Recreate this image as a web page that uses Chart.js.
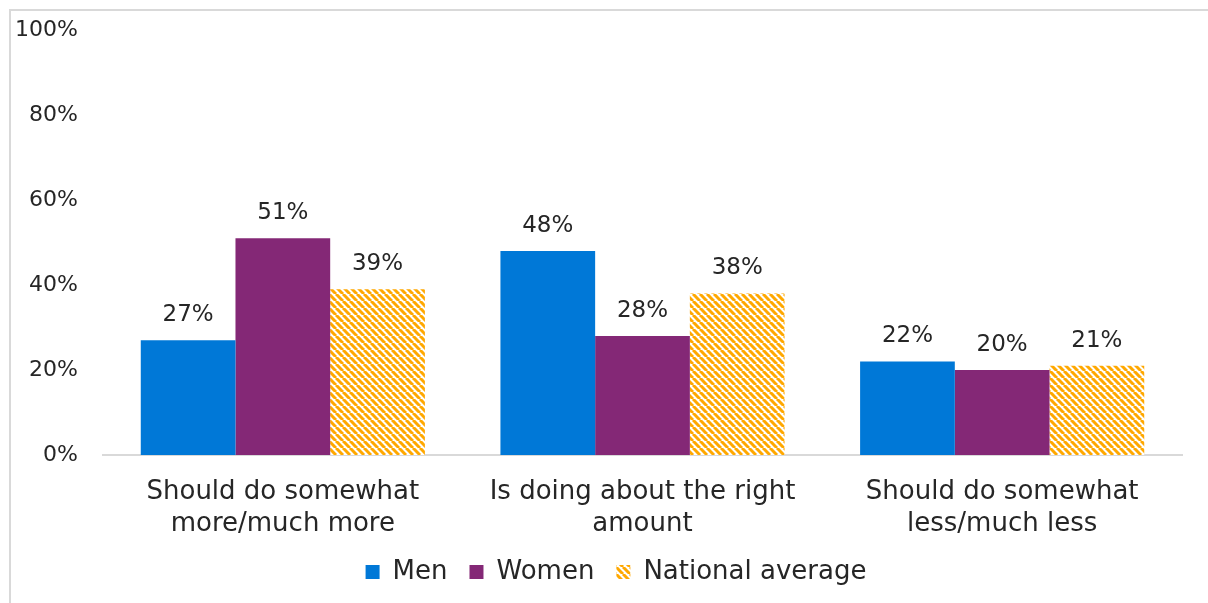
<!DOCTYPE html>
<html>
<head>
<meta charset="utf-8">
<script src="https://cdn.jsdelivr.net/npm/chart.js@4/dist/chart.umd.min.js"></script>
<style>
  html, body { margin: 0; padding: 0; background: #ffffff; }
  #wrap { position: relative; width: 1208px; height: 603px; }
</style>
</head>
<body>
<div id="wrap"><canvas id="chart" width="1208" height="603"></canvas></div>
<script>
// Survey responses by group (percent)
const categories = [
  ['Should do somewhat', 'more/much more'],
  ['Is doing about the right', 'amount'],
  ['Should do somewhat', 'less/much less']
];
const seriesNames = ['Men', 'Women', 'National average'];
const menValues = [27, 48, 22];
const womenValues = [51, 28, 20];
const nationalValues = [39, 38, 21];
const yTicks = [0, 20, 40, 60, 80, 100];

const FONT = '"DejaVu Sans", sans-serif';
const TEXT = '#262626';

// Diagonal orange hatch used for the national average bars
function makeHatch() {
  const s = 7;
  const c = document.createElement('canvas');
  c.width = s; c.height = s;
  const g = c.getContext('2d');
  g.fillStyle = '#ffffff';
  g.fillRect(0, 0, s, s);
  g.strokeStyle = '#FFA800';
  g.lineWidth = 3;
  for (let k = -1; k <= 1; k++) {
    g.beginPath();
    g.moveTo(k * s, 0);
    g.lineTo(k * s + s, s);
    g.stroke();
  }
  return g.createPattern(c, 'repeat');
}
const hatch = makeHatch();

// Thin frame along the top and left edges
const framePlugin = {
  id: 'frame',
  beforeDraw(chart) {
    const ctx = chart.ctx;
    ctx.save();
    ctx.strokeStyle = '#d9d9d9';
    ctx.lineWidth = 2;
    ctx.beginPath();
    ctx.moveTo(10, chart.height);
    ctx.lineTo(10, 10);
    ctx.lineTo(chart.width, 10);
    ctx.stroke();
    ctx.restore();
  }
};

// Centre the legend on the whole canvas rather than the padded area
const legendShift = {
  id: 'legendShift',
  afterLayout(chart) {
    if (chart.legend) {
      chart.legend.left += 25;
      chart.legend.right += 25;
    }
  }
};

// Value labels above each bar
const valueLabels = {
  id: 'valueLabels',
  afterDatasetsDraw(chart) {
    const ctx = chart.ctx;
    ctx.save();
    ctx.font = '23px ' + FONT;
    ctx.fillStyle = TEXT;
    ctx.textAlign = 'center';
    ctx.textBaseline = 'middle';
    chart.data.datasets.forEach((ds, i) => {
      chart.getDatasetMeta(i).data.forEach((bar, j) => {
        ctx.fillText(ds.data[j] + '%', bar.x, bar.y - 25);
      });
    });
    ctx.restore();
  }
};

new Chart(document.getElementById('chart'), {
  type: 'bar',
  data: {
    labels: categories,
    datasets: [
      { label: seriesNames[0], data: menValues, backgroundColor: '#0078D7' },
      { label: seriesNames[1], data: womenValues, backgroundColor: '#842876' },
      { label: seriesNames[2], data: nationalValues, backgroundColor: hatch }
    ]
  },
  options: {
    responsive: false,
    animation: false,
    categoryPercentage: 0.79,
    barPercentage: 1.0,
    layout: { padding: { top: 30, right: 26, left: 0, bottom: 8 } },
    scales: {
      x: {
        afterFit(scale) { scale.height = 82; },
        grid: { display: false, drawTicks: false },
        border: { color: '#d9d9d9', width: 2 },
        ticks: { color: TEXT, font: { family: FONT, size: 26, lineHeight: 1.23 }, padding: 21, maxRotation: 0 }
      },
      y: {
        min: 0, max: 100,
        afterFit(scale) { scale.width = 103; scale.paddingTop = 0; scale.paddingBottom = 0; },
        afterBuildTicks(scale) { scale.ticks = yTicks.map(v => ({ value: v })); },
        grid: { display: false, drawTicks: false },
        border: { display: false },
        ticks: { color: TEXT, font: { family: FONT, size: 22 }, padding: 25, callback: v => v + '%' }
      }
    },
    plugins: {
      legend: {
        position: 'bottom',
        labels: { color: TEXT, font: { family: FONT, size: 26 }, boxWidth: 14, boxHeight: 14, padding: 22 }
      },
      tooltip: { enabled: false }
    }
  },
  plugins: [framePlugin, legendShift, valueLabels]
});
</script>
</body>
</html>
